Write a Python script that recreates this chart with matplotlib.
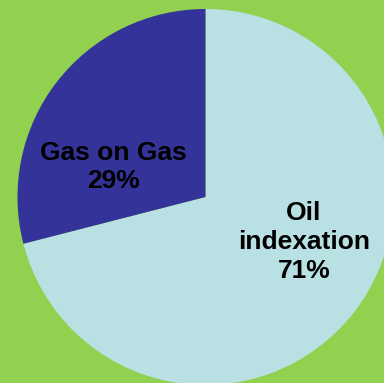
import matplotlib
matplotlib.use("Agg")
import matplotlib.pyplot as plt

labels = ["Oil\nindexation\n71%", "Gas on Gas\n29%"]
shares = [71, 29]
colors = ["#B9E0E3", "#333399"]
label_pos = [(304, 141), (113, 216)]

fig = plt.figure(figsize=(3.84, 3.83), dpi=100)
fig.patch.set_facecolor("#92D050")
ax = fig.add_axes([0, 0, 1, 1])
ax.set_facecolor("#92D050")

wedges, _ = ax.pie(shares, colors=colors, startangle=90, counterclock=False,
                   center=(205.5, 186), radius=188, frame=True,
                   wedgeprops=dict(linewidth=0))

for text, (x, y) in zip(labels, label_pos):
    ax.text(x, y, text, ha="center", va="center", fontsize=19,
            fontweight="bold", family="Liberation Sans", linespacing=1.25,
            color="black")

ax.set_xlim(0, 384)
ax.set_ylim(0, 383)
ax.set_aspect("equal")
ax.axis("off")

fig.savefig("out.png", dpi=100, facecolor=fig.get_facecolor())
